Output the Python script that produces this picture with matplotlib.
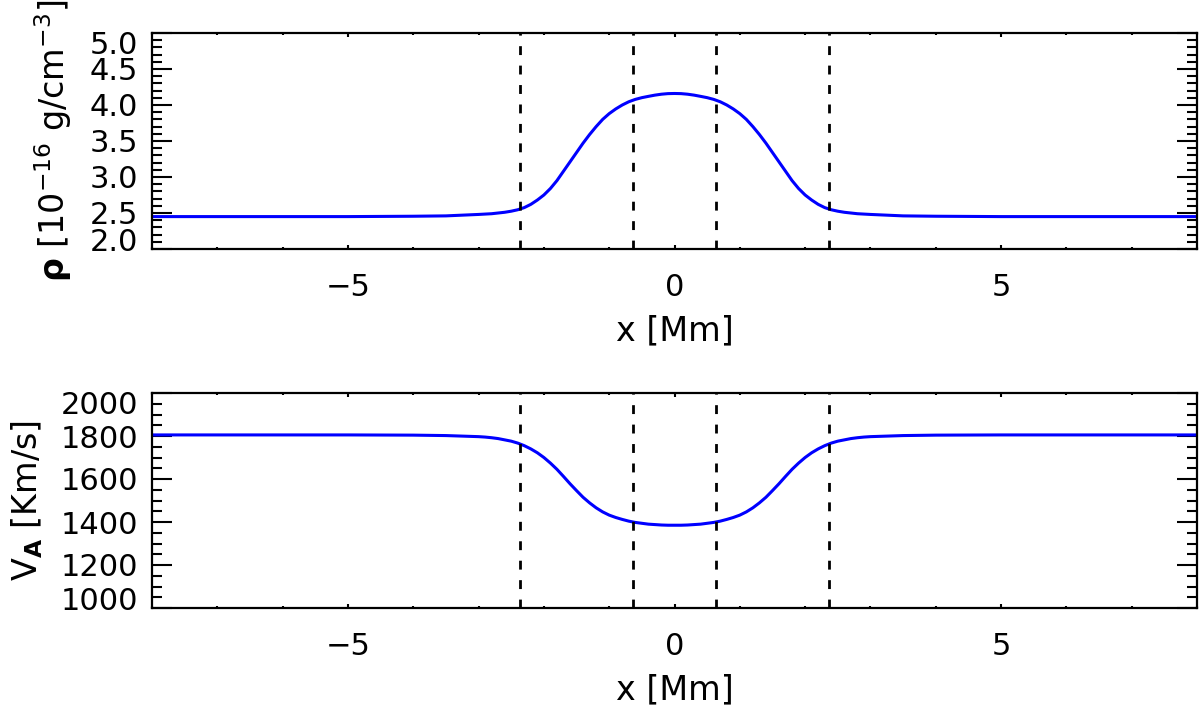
import matplotlib
matplotlib.use("Agg")
import matplotlib.pyplot as plt
from matplotlib.ticker import MultipleLocator, FixedLocator
from matplotlib.transforms import ScaledTranslation

# ---- data ----
x_mm = [-8.0, -5.0, -4.0, -3.5, -3.0, -2.9, -2.8, -2.7, -2.6, -2.5, -2.4, -2.3, -2.2, -2.1,
        -2.0, -1.9, -1.8, -1.7, -1.6, -1.5, -1.4, -1.3, -1.2, -1.1, -1.0, -0.9, -0.8, -0.7,
        -0.6, -0.5, -0.4, -0.3, -0.2, -0.1, 0.0, 0.1, 0.2, 0.3, 0.4, 0.5, 0.6, 0.7, 0.8,
        0.9, 1.0, 1.1, 1.2, 1.3, 1.4, 1.5, 1.6, 1.7, 1.8, 1.9, 2.0, 2.1, 2.2, 2.3, 2.4,
        2.5, 2.6, 2.7, 2.8, 2.9, 3.0, 3.5, 4.0, 5.0, 8.0]
rho = [2.45, 2.45, 2.455, 2.46, 2.48, 2.485, 2.49, 2.50, 2.51, 2.525, 2.545, 2.575, 2.62, 2.68,
       2.75, 2.84, 2.95, 3.08, 3.21, 3.34, 3.47, 3.59, 3.70, 3.80, 3.88, 3.945, 4.00, 4.045,
       4.078, 4.102, 4.12, 4.137, 4.15, 4.158, 4.16, 4.158, 4.15, 4.137, 4.12, 4.102, 4.078, 4.045, 4.00,
       3.945, 3.88, 3.80, 3.70, 3.59, 3.47, 3.34, 3.21, 3.08, 2.95, 2.84, 2.75, 2.68, 2.62, 2.575, 2.545,
       2.525, 2.51, 2.50, 2.49, 2.485, 2.48, 2.46, 2.455, 2.45, 2.45]
v_a = [1805, 1805, 1804, 1802, 1797, 1795, 1792, 1788, 1782, 1776, 1767, 1755, 1740, 1722,
       1700, 1674, 1645, 1612, 1578, 1546, 1515, 1489, 1466, 1447, 1432, 1421, 1412, 1404,
       1398, 1394, 1390, 1388, 1386, 1385, 1385, 1385, 1386, 1388, 1390, 1394, 1398, 1404, 1412,
       1421, 1432, 1447, 1466, 1489, 1515, 1546, 1578, 1612, 1645, 1674, 1700, 1722, 1740, 1755, 1767,
       1776, 1782, 1788, 1792, 1795, 1797, 1802, 1804, 1805, 1805]
boundaries = [-2.36, -0.64, 0.64, 2.36]

x_limits = (-8, 8)
rho_limits = (2.0, 5.0)
rho_ticks = [2.0, 2.5, 3.0, 3.5, 4.0, 4.5, 5.0]
va_limits = (1000, 2000)
va_ticks = [1000, 1200, 1400, 1600, 1800, 2000]
x_ticks = [-5, 0, 5]

plt.rcParams['font.family'] = ['DejaVu Sans']
plt.rcParams['mathtext.fontset'] = 'dejavusans'
FS = 22
LFS = 24

fig = plt.figure(figsize=(12, 7.07), dpi=100)
ax1 = fig.add_axes([152/1200, (707-249)/707, 1045/1200, 216/707])
ax2 = fig.add_axes([152/1200, (707-608)/707, 1045/1200, 215/707])


def style(ax, yticks, ylim, yminor):
    ax.set_xlim(*x_limits)
    ax.set_ylim(*ylim)
    ax.xaxis.set_major_locator(FixedLocator(x_ticks))
    ax.xaxis.set_minor_locator(MultipleLocator(1))
    ax.yaxis.set_major_locator(FixedLocator(yticks))
    ax.yaxis.set_minor_locator(MultipleLocator(yminor))
    for s in ax.spines.values():
        s.set_linewidth(1.6)
    ax.tick_params(which='both', direction='in', top=True, right=True, width=1.5,
                   labelsize=FS, color='black')
    ax.tick_params(axis='x', which='major', length=3.2, pad=17)
    ax.tick_params(axis='x', which='minor', length=1.6)
    ax.tick_params(axis='y', which='major', length=14.4, pad=10)
    ax.tick_params(axis='y', which='minor', length=7.2)
    ax.set_xlabel('x [Mm]', fontsize=LFS, labelpad=9)


def shift_end_labels(ax):
    ticks = ax.yaxis.get_major_ticks()
    lab0 = ticks[0].label1
    lab0.set_transform(lab0.get_transform() + ScaledTranslation(0, 9.5/100, fig.dpi_scale_trans))
    labn = ticks[-1].label1
    labn.set_transform(labn.get_transform() + ScaledTranslation(0, -10/100, fig.dpi_scale_trans))


style(ax1, rho_ticks, rho_limits, 0.1)
ax1.set_yticklabels([f'{v:.1f}' for v in rho_ticks])
ax1.plot(x_mm, rho, color=(0, 0, 1), lw=2.2, solid_capstyle='butt')
for b in boundaries:
    ax1.axvline(b, color='black', lw=2.0, dashes=(3.2, 3.8))
ax1.set_ylabel(r'$\mathbf{\rho}$ [10$^{-16}$ g/cm$^{-3}$]', fontsize=LFS, labelpad=11)
shift_end_labels(ax1)

style(ax2, va_ticks, va_limits, 50)
ax2.set_yticklabels([f'{v:d}' for v in va_ticks])
ax2.plot(x_mm, v_a, color=(0, 0, 1), lw=2.2, solid_capstyle='butt')
for b in boundaries:
    ax2.axvline(b, color='black', lw=2.0, dashes=(3.2, 3.8))
ax2.set_ylabel(r'V$_\mathbf{A}$ [Km/s]', fontsize=LFS, labelpad=11)
shift_end_labels(ax2)

fig.savefig('out.png', dpi=100)
